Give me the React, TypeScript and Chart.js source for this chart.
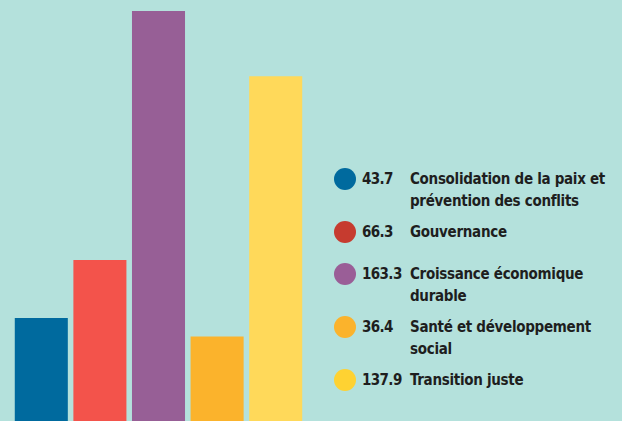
import React, { useEffect, useRef } from "react";
import { Chart, registerables } from "chart.js";

Chart.register(...registerables);

const categories = [
  "Consolidation de la paix et\nprévention des conflits",
  "Gouvernance",
  "Croissance économique\ndurable",
  "Santé et développement\nsocial",
  "Transition juste",
];
const values = [43.7, 66.3, 163.3, 36.4, 137.9];
const valueLabels = ["43.7", "66.3", "163.3", "36.4", "137.9"];
const barColors = ["#006a9e", "#f3534b", "#975f96", "#fbb32c", "#ffd95a"];
const dotColors = ["#006a9e", "#c63b2f", "#9a5e97", "#fbb32c", "#fed232"];

const BG = "#b4e1dc";
const FONT = "'DejaVu Sans Condensed', 'DejaVu Sans', sans-serif";

export default function App() {
  const canvasRef = useRef<HTMLCanvasElement | null>(null);

  useEffect(() => {
    if (!canvasRef.current) return;
    const chart = new Chart(canvasRef.current, {
      type: "bar",
      data: {
        labels: categories,
        datasets: [
          {
            data: values,
            backgroundColor: barColors,
            borderWidth: 0,
            barPercentage: 0.905,
            categoryPercentage: 1,
          },
        ],
      },
      options: {
        animation: false,
        responsive: true,
        maintainAspectRatio: false,
        layout: { padding: { left: 12, right: 15, top: 0, bottom: 0 } },
        plugins: { legend: { display: false }, tooltip: { enabled: false } },
        scales: {
          x: { display: false },
          y: { display: false, min: 0, max: 167.6 },
        },
      },
    });
    return () => chart.destroy();
  }, []);

  return (
    <div
      style={{
        position: "fixed",
        left: 0,
        top: 0,
        width: 622,
        height: 421,
        overflow: "hidden",
        background: BG,
      }}
    >
      <div style={{ position: "absolute", left: 0, top: 0, width: 320, height: 430 }}>
        <canvas ref={canvasRef} />
      </div>
      <div
        style={{
          position: "absolute",
          left: 334,
          top: 168,
          fontFamily: FONT,
          fontWeight: 700,
          fontSize: 15,
          lineHeight: "22px",
          color: "#1e1e1e",
          display: "flex",
          flexDirection: "column",
          gap: 9,
        }}
      >
        {categories.map((c, i) => (
          <div key={i} style={{ display: "flex", alignItems: "flex-start", minHeight: 33 }}>
            <div
              style={{
                width: 22,
                height: 22,
                borderRadius: "50%",
                background: dotColors[i],
                flex: "0 0 auto",
              }}
            />
            <div style={{ width: 54, paddingLeft: 6, boxSizing: "border-box", letterSpacing: -0.6 }}>
              {valueLabels[i]}
            </div>
            <div style={{ whiteSpace: "pre-line", letterSpacing: -0.3 }}>{c}</div>
          </div>
        ))}
      </div>
    </div>
  );
}
